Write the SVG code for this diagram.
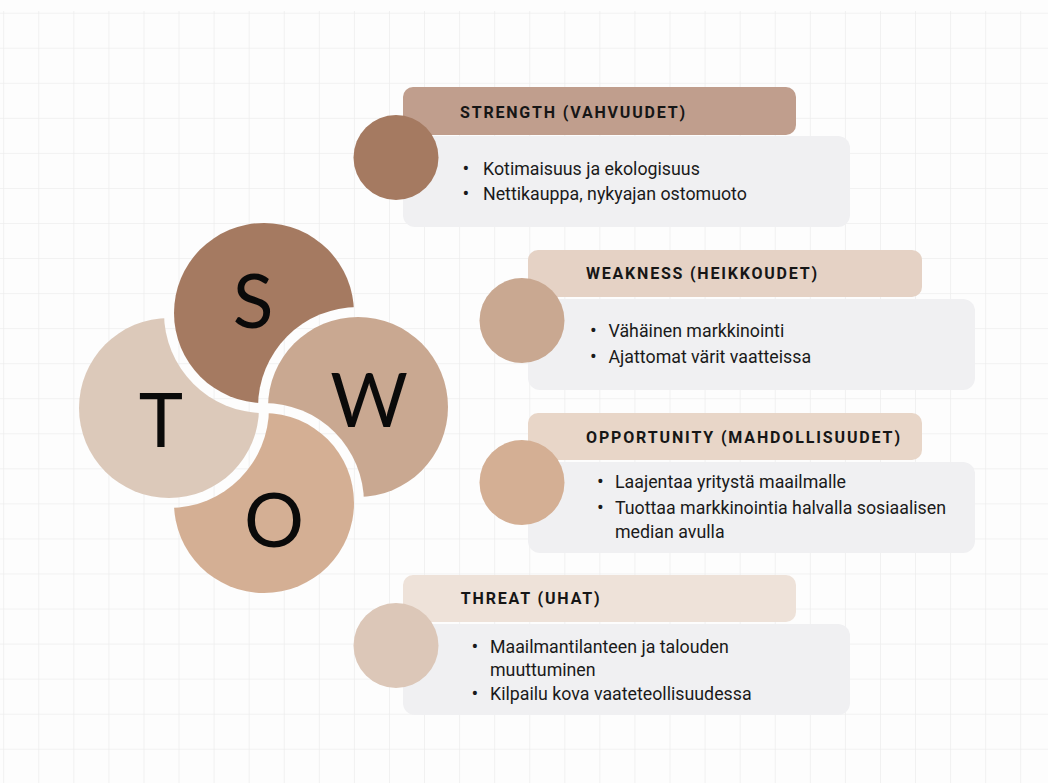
<svg xmlns="http://www.w3.org/2000/svg" width="1048" height="783" viewBox="0 0 1048 783">
  <defs>
    <pattern id="grid" x="3.2" y="12.7" width="35.07" height="35.05" patternUnits="userSpaceOnUse">
      <path d="M0 0H35.07M0 0V35.05" fill="none" stroke="#EEEEEE" stroke-width="1.6"/>
    </pattern>
    <!-- each petal is cut by a 10px gap around the petal lying over it -->
    <mask id="underW" maskUnits="userSpaceOnUse" x="0" y="0" width="1048" height="783">
      <rect width="1048" height="783" fill="#FFFFFF"/>
      <circle cx="358" cy="407" r="100" fill="#000000"/>
    </mask>
    <mask id="underO" maskUnits="userSpaceOnUse" x="0" y="0" width="1048" height="783">
      <rect width="1048" height="783" fill="#FFFFFF"/>
      <circle cx="264" cy="503" r="100" fill="#000000"/>
    </mask>
    <mask id="underT" maskUnits="userSpaceOnUse" x="0" y="0" width="1048" height="783">
      <rect width="1048" height="783" fill="#FFFFFF"/>
      <circle cx="169" cy="408" r="100" fill="#000000"/>
    </mask>
    <mask id="underS" maskUnits="userSpaceOnUse" x="0" y="0" width="1048" height="783">
      <rect width="1048" height="783" fill="#FFFFFF"/>
      <circle cx="264" cy="313" r="100" fill="#000000"/>
    </mask>
    <style>
      .letter { font-family: Lato, "Noto Sans", sans-serif; font-size: 75px; fill: #0A0A0A; text-anchor: middle; }
      .title { font-family: Roboto, "Liberation Sans", sans-serif; font-weight: 700; font-size: 16px; fill: #161616; }
      .item { font-family: Roboto, "Liberation Sans", sans-serif; font-size: 17.8px; fill: #1A1A1A; }
      .dot { font-size: 20px; }
      .body { fill: #F0F0F2; }
    </style>
  </defs>

  <!-- background grid -->
  <rect width="1048" height="783" fill="#FDFDFD"/>
  <rect x="0" y="11" width="1048" height="772" fill="url(#grid)"/>

  <!-- SWOT pinwheel: S over T, T over O, O over W, W over S -->
  <g id="swot-wheel">
    <circle id="petal-s" cx="264" cy="313" r="90" fill="#A57A61" mask="url(#underW)"/>
    <circle id="petal-w" cx="358" cy="407" r="90" fill="#C9A891" mask="url(#underO)"/>
    <circle id="petal-o" cx="264" cy="503" r="90" fill="#D4AF94" mask="url(#underT)"/>
    <circle id="petal-t" cx="169" cy="408" r="90" fill="#DCC9BA" mask="url(#underS)"/>
    <text class="letter" x="253" y="328">S</text>
    <text class="letter" x="369" y="427">W</text>
    <text class="letter" x="274" y="547">O</text>
    <text class="letter" x="161" y="447">T</text>
  </g>

  <!-- Strength -->
  <g id="strength">
    <rect x="403" y="87" width="393" height="48" rx="10" fill="#C09E8D"/>
    <rect class="body" x="403" y="136" width="447" height="91" rx="12"/>
    <circle cx="396" cy="157.5" r="42.5" fill="#A57A61"/>
    <text class="title" x="460" y="118" textLength="225" lengthAdjust="spacing">STRENGTH (VAHVUUDET)</text>
    <text class="item" y="175"><tspan class="dot" x="462.5">•</tspan><tspan x="483">Kotimaisuus ja ekologisuus</tspan></text>
    <text class="item" y="200"><tspan class="dot" x="462.5">•</tspan><tspan x="483">Nettikauppa, nykyajan ostomuoto</tspan></text>
  </g>

  <!-- Weakness -->
  <g id="weakness">
    <rect x="528" y="250" width="394" height="47" rx="10" fill="#E5D2C5"/>
    <rect class="body" x="528" y="299" width="447" height="91" rx="12"/>
    <circle cx="522" cy="320.5" r="42.5" fill="#C9A891"/>
    <text class="title" x="586" y="278.5" textLength="231" lengthAdjust="spacing">WEAKNESS (HEIKKOUDET)</text>
    <text class="item" y="337"><tspan class="dot" x="590">•</tspan><tspan x="608.5">Vähäinen markkinointi</tspan></text>
    <text class="item" y="362.5"><tspan class="dot" x="590">•</tspan><tspan x="608.5">Ajattomat värit vaatteissa</tspan></text>
  </g>

  <!-- Opportunity -->
  <g id="opportunity">
    <rect x="528" y="413" width="394" height="47" rx="10" fill="#E8D6C8"/>
    <rect class="body" x="528" y="462" width="447" height="91" rx="12"/>
    <circle cx="522" cy="482.5" r="42.5" fill="#D4AF94"/>
    <text class="title" x="586" y="442.5" textLength="314" lengthAdjust="spacing">OPPORTUNITY (MAHDOLLISUUDET)</text>
    <text class="item" y="487.5"><tspan class="dot" x="597">•</tspan><tspan x="615">Laajentaa yritystä maailmalle</tspan></text>
    <text class="item" y="513.5"><tspan class="dot" x="597">•</tspan><tspan x="615">Tuottaa markkinointia halvalla sosiaalisen</tspan></text>
    <text class="item" x="615" y="538">median avulla</text>
  </g>

  <!-- Threat -->
  <g id="threat">
    <rect x="403" y="575" width="393" height="47" rx="10" fill="#EEE2D9"/>
    <rect class="body" x="403" y="624" width="447" height="91" rx="12"/>
    <circle cx="396" cy="645.5" r="42.5" fill="#DCC7B8"/>
    <text class="title" x="460.7" y="604" textLength="139" lengthAdjust="spacing">THREAT (UHAT)</text>
    <text class="item" y="652.5"><tspan class="dot" x="471.5">•</tspan><tspan x="490">Maailmantilanteen ja talouden</tspan></text>
    <text class="item" x="490" y="675.5">muuttuminen</text>
    <text class="item" y="700"><tspan class="dot" x="471.5">•</tspan><tspan x="490">Kilpailu kova vaateteollisuudessa</tspan></text>
  </g>

  <g id="connectors"/>
</svg>
